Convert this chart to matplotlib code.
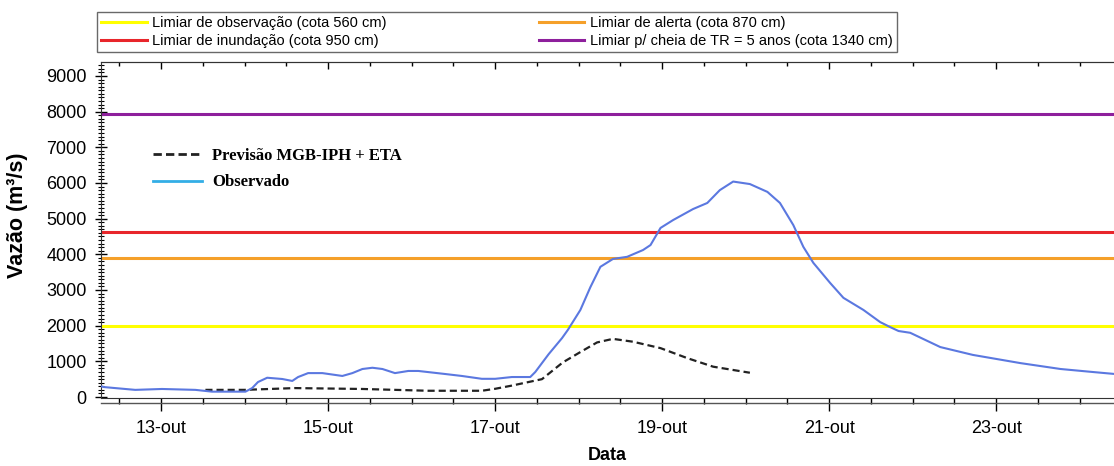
import numpy as np
import matplotlib.pyplot as plt
from matplotlib.lines import Line2D

# Dias de outubro
obs_dia = [12.28, 12.31, 12.45, 12.69, 13.01, 13.41, 13.61, 14.01, 14.09, 14.16,
           14.27, 14.45, 14.57, 14.64, 14.76, 14.93, 15.17, 15.29, 15.41, 15.53,
           15.65, 15.80, 15.96, 16.08, 16.40, 16.60, 16.84, 17.00, 17.20, 17.42,
           17.48, 17.64, 17.80, 17.87, 18.02, 18.14, 18.26, 18.41, 18.58, 18.77,
           18.86, 18.98, 19.13, 19.37, 19.54, 19.69, 19.85, 20.05, 20.26, 20.41,
           20.57, 20.69, 20.81, 21.01, 21.17, 21.41, 21.61, 21.73, 21.83, 21.97,
           22.33, 22.72, 23.29, 23.77, 24.16, 24.42]
obs_vazao = [300, 280, 250, 200, 225, 200, 150, 150, 250, 420,
             540, 505, 450, 560, 670, 670, 590, 670, 785, 820,
             785, 670, 730, 730, 645, 590, 510, 510, 560, 560,
             700, 1200, 1650, 1880, 2440, 3080, 3650, 3870, 3930, 4120,
             4260, 4740, 4960, 5270, 5440, 5800, 6040, 5970, 5750, 5440,
             4820, 4210, 3760, 3200, 2780, 2440, 2100, 1960, 1850, 1800,
             1400, 1180, 950, 785, 700, 645]

prev_dia = [13.53, 14.00, 14.60, 15.41, 16.20, 16.84, 17.00, 17.20, 17.56, 17.81,
            18.02, 18.22, 18.41, 18.65, 18.98, 19.30, 19.61, 20.05]
prev_vazao = [200, 200, 250, 225, 175, 175, 230, 320, 500, 970,
              1260, 1530, 1630, 1550, 1370, 1090, 850, 680]

# Limiares (m3/s)
limiar_nomes = ['Limiar de observação (cota 560 cm)', 'Limiar de inundação (cota 950 cm)',
                'Limiar de alerta (cota 870 cm)', 'Limiar p/ cheia de TR = 5 anos (cota 1340 cm)']
limiar_vazao = [2000, 4630, 3900, 7940]
limiar_cores = ['#FFFF00', '#E8262B', '#F5A02A', '#8E1F9C']

tick_pos = [13, 15, 17, 19, 21, 23]
tick_lab = ['13-out', '15-out', '17-out', '19-out', '21-out', '23-out']
minor_pos = np.arange(12.5, 24.5, 0.5)

plt.rcParams['font.family'] = ['Liberation Sans', 'DejaVu Sans']

fig = plt.figure(figsize=(11.14, 4.66), dpi=100)
ax = fig.add_axes([101/1114, 1 - 398/466, 1 - 101/1114, 336/466])

# Limiares
hs = []
for nome, v, c in zip(limiar_nomes, limiar_vazao, limiar_cores):
    hs.append(ax.axhline(v, color=c, lw=2.2, label=nome, zorder=2))

ax.plot(prev_dia, prev_vazao, color='#222222', lw=1.6, ls=(0, (3.2, 1.8)), zorder=3)
ax.plot(obs_dia, obs_vazao, color='#5B78E0', lw=1.5, zorder=4)

ax.set_xlim(12.28, 24.41)
ax.set_ylim(-28, 9392)

ax.set_xticks(tick_pos, tick_lab)
ax.set_xticks(minor_pos, minor=True)
ax.set_yticks(np.arange(0, 9001, 1000))
ax.set_yticks(np.arange(0, 9400, 100), minor=True)

ax.tick_params(axis='x', which='major', direction='out', length=9, width=1, labelsize=13, pad=7)
ax.tick_params(axis='x', which='minor', direction='out', length=4.5, width=1)
ax.tick_params(axis='y', which='major', direction='inout', length=8.5, width=1, labelsize=13, pad=6)
ax.tick_params(axis='y', which='minor', direction='inout', length=4, width=0.8)
for s in ax.spines.values():
    s.set_color('#333333')
ax.spines['right'].set_visible(False)

# marcas no topo, para dentro
sec = ax.secondary_xaxis('top')
sec.set_xticks(tick_pos)
sec.set_xticks(minor_pos, minor=True)
sec.tick_params(which='major', direction='in', length=5, width=1, labeltop=False)
sec.tick_params(which='minor', direction='in', length=3, width=1)
sec.spines['top'].set_color('#333333')

# segunda linha da moldura inferior
ax.plot([0, 1], [-0.016, -0.016], transform=ax.transAxes, clip_on=False, color='#555555', lw=1)

ax.set_ylabel('Vazão (m³/s)', fontsize=15.5, fontweight='bold')
ax.yaxis.set_label_coords(-0.072, 0.545)
ax.set_xlabel('Data', fontsize=13, fontweight='bold')
ax.xaxis.set_label_coords(0.5, -0.145)

# legenda superior
leg1 = fig.legend(handles=hs, loc='lower left',
                  bbox_to_anchor=(97/1114, 1 - 52/466, 800/1114, 39/466),
                  mode='expand', ncol=2, fontsize=10.5, frameon=True, fancybox=False,
                  edgecolor='#444444', borderaxespad=0, borderpad=0.3, labelspacing=0.25,
                  handlelength=3.1, handletextpad=0.4)
leg1.get_frame().set_linewidth(1)

# legenda interna
h_prev = Line2D([], [], color='#222222', lw=2, ls=(0, (3, 1.5)))
h_obs = Line2D([], [], color='#33AEE6', lw=2)
ax.legend([h_prev, h_obs], ['Previsão MGB-IPH + ETA', 'Observado'], loc='upper left',
          bbox_to_anchor=(0.037, 0.79), frameon=False,
          prop={'family': 'Liberation Serif', 'weight': 'bold', 'size': 12},
          handlelength=2.9, handletextpad=0.6, labelspacing=0.65)

plt.savefig('out.png', dpi=100)
